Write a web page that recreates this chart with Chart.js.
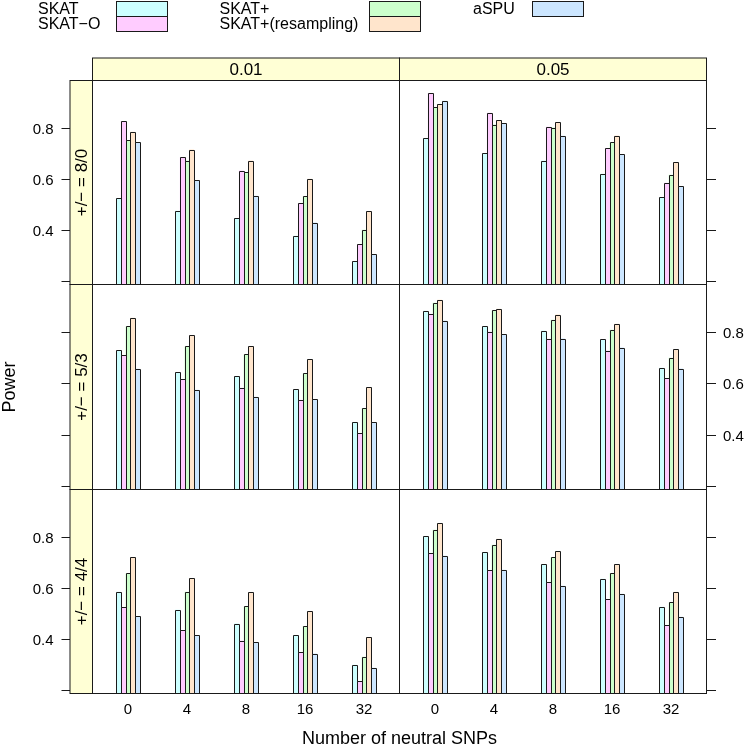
<!DOCTYPE html>
<html>
<head>
<meta charset="utf-8">
<title>Power by number of neutral SNPs</title>
<script src="https://cdn.jsdelivr.net/npm/chart.js@4.4.0/dist/chart.umd.min.js"></script>
<style>
    body { margin: 0; background: #fff; }
    #wrap { position: relative; width: 745px; height: 746px; overflow: hidden; }
    #wrap canvas { position: absolute; left: 0; top: 0; }
</style>
</head>
<body>
<div id="wrap"></div>
<script>
/* ==================== DATA ==================== */

const neutralSnps = ['0', '4', '8', '16', '32'];
const methods = ['SKAT', 'SKAT\u2212O', 'SKAT+', 'SKAT+(resampling)', 'aSPU'];
const methodColors = ['#CCFFFF', '#FFCCFF', '#CCFFCC', '#FFE5CC', '#CCE6FF'];
const alphaLevels = ['0.01', '0.05'];
const signRatios = ['+/\u2212 = 8/0', '+/\u2212 = 5/3', '+/\u2212 = 4/4'];
const yTicks = [0.2, 0.4, 0.6, 0.8];
const yTickLabels = ['', '0.4', '0.6', '0.8'];
const yLimits = [0.187, 0.984];

// one row per method (SKAT, SKAT-O, SKAT+, SKAT+ resampling, aSPU), one column per neutral SNP count
const power80_a01 = [
    [0.525, 0.475, 0.447, 0.377, 0.278],
    [0.826, 0.684, 0.632, 0.505, 0.344],
    [0.752, 0.671, 0.625, 0.531, 0.401],
    [0.784, 0.714, 0.671, 0.600, 0.474],
    [0.744, 0.595, 0.534, 0.429, 0.306]
];
const power80_a05 = [
    [0.758, 0.700, 0.671, 0.620, 0.527],
    [0.935, 0.858, 0.803, 0.719, 0.585],
    [0.879, 0.812, 0.800, 0.742, 0.616],
    [0.892, 0.830, 0.821, 0.769, 0.666],
    [0.905, 0.817, 0.768, 0.695, 0.570]
];
const power53_a01 = [
    [0.728, 0.643, 0.627, 0.576, 0.449],
    [0.708, 0.615, 0.583, 0.536, 0.407],
    [0.821, 0.743, 0.712, 0.638, 0.504],
    [0.855, 0.786, 0.745, 0.693, 0.584],
    [0.656, 0.575, 0.548, 0.539, 0.449]
];
const power53_a05 = [
    [0.882, 0.821, 0.805, 0.771, 0.660],
    [0.870, 0.801, 0.773, 0.727, 0.619],
    [0.913, 0.883, 0.847, 0.808, 0.699],
    [0.925, 0.890, 0.867, 0.831, 0.732],
    [0.844, 0.792, 0.774, 0.739, 0.657]
];
const power44_a01 = [
    [0.585, 0.514, 0.460, 0.416, 0.299],
    [0.523, 0.435, 0.394, 0.349, 0.236],
    [0.656, 0.585, 0.527, 0.451, 0.331],
    [0.719, 0.638, 0.582, 0.508, 0.408],
    [0.490, 0.414, 0.388, 0.343, 0.288]
];
const power44_a05 = [
    [0.801, 0.740, 0.691, 0.635, 0.526],
    [0.736, 0.668, 0.621, 0.555, 0.454],
    [0.827, 0.768, 0.719, 0.657, 0.543],
    [0.853, 0.792, 0.743, 0.691, 0.585],
    [0.725, 0.670, 0.608, 0.577, 0.487]
];

const panelData = [
    [power80_a01, power80_a05],
    [power53_a01, power53_a05],
    [power44_a01, power44_a05]
];

/* ==================== LAYOUT ==================== */

const W = 745, H = 746;
const colEdges = [92.5, 399.5, 706.5];
const rowEdges = [80.5, 284.5, 489.5, 693.5];
const stripSize = 22.5;
const FONT = '"Liberation Sans", Arial, Helvetica, sans-serif';
const LINE = '#1a1a1a';
const STRIP_BG = '#FFFFD5';

// Re-fills each bar on the pixel grid and gives it a crisp 1px outline
const barOutlinePlugin = {
    id: 'barOutline',
    afterDatasetsDraw(chart) {
        const ctx = chart.ctx;
        const area = chart.chartArea;
        ctx.save();
        ctx.lineWidth = 1;
        ctx.strokeStyle = LINE;
        chart.data.datasets.forEach((ds, k) => {
            chart.getDatasetMeta(k).data.forEach(bar => {
                const p = bar.getProps(['x', 'y', 'base', 'width'], true);
                const l = Math.round(p.x - p.width / 2) + 0.5;
                const r = Math.round(p.x + p.width / 2) + 0.5;
                const t = Math.max(Math.round(p.y) + 0.5, area.top);
                // bars rise from the lower limit of the panel, as in lattice
                const b = Math.min(p.base, area.bottom);
                ctx.fillStyle = ds.backgroundColor;
                ctx.fillRect(l, t, r - l, b - t);
                ctx.beginPath();
                ctx.moveTo(l, b);
                ctx.lineTo(l, t);
                ctx.lineTo(r, t);
                ctx.lineTo(r, b);
                ctx.stroke();
            });
        });
        ctx.restore();
    }
};

// Draws frame, strips, axes and the page-level key/titles
const latticePlugin = {
    id: 'lattice',
    afterDraw(chart, args, opts) {
        const ctx = chart.ctx;
        const a = chart.chartArea;
        const x = chart.scales.x;
        const y = chart.scales.y;
        ctx.save();
        ctx.strokeStyle = LINE;
        ctx.lineWidth = 1;
        ctx.fillStyle = '#000';

        // panel frame
        ctx.strokeRect(a.left, a.top, a.right - a.left, a.bottom - a.top);

        // strip above the top row
        if (opts.topStrip) {
            ctx.fillStyle = STRIP_BG;
            ctx.fillRect(a.left, a.top - stripSize, a.right - a.left, stripSize);
            ctx.strokeRect(a.left, a.top - stripSize, a.right - a.left, stripSize);
            ctx.fillStyle = '#000';
            ctx.font = '17px ' + FONT;
            ctx.textAlign = 'center';
            ctx.textBaseline = 'middle';
            ctx.fillText(opts.topStrip, (a.left + a.right) / 2, a.top - stripSize / 2 + 1);
        }

        // strip on the left of the first column
        let axisLeft = a.left;
        if (opts.leftStrip) {
            axisLeft = a.left - stripSize;
            ctx.fillStyle = STRIP_BG;
            ctx.fillRect(axisLeft, a.top, stripSize, a.bottom - a.top);
            ctx.strokeRect(axisLeft, a.top, stripSize, a.bottom - a.top);
            ctx.fillStyle = '#000';
            ctx.save();
            ctx.translate(axisLeft + stripSize / 2 + 1, (a.top + a.bottom) / 2);
            ctx.rotate(-Math.PI / 2);
            ctx.font = '17px ' + FONT;
            ctx.textAlign = 'center';
            ctx.textBaseline = 'middle';
            ctx.fillText(opts.leftStrip, 0, 0);
            ctx.restore();
        }

        // y axis ticks (left or right), labels optional
        ctx.font = '15px ' + FONT;
        ctx.textBaseline = 'middle';
        yTicks.forEach((v, i) => {
            const py = Math.round(y.getPixelForValue(v)) + 0.5;
            ctx.beginPath();
            if (opts.yAxis === 'left') {
                ctx.moveTo(axisLeft - 8.5, py);
                ctx.lineTo(axisLeft, py);
            } else {
                ctx.moveTo(a.right, py);
                ctx.lineTo(a.right + 9.5, py);
            }
            ctx.stroke();
            if (opts.yLabels && yTickLabels[i]) {
                if (opts.yAxis === 'left') {
                    ctx.textAlign = 'right';
                    ctx.fillText(yTickLabels[i], axisLeft - 16.5, py + 1);
                } else {
                    ctx.textAlign = 'left';
                    ctx.fillText(yTickLabels[i], a.right + 16.5, py + 1);
                }
            }
        });

        // category labels under the bottom row
        if (opts.xLabels) {
            ctx.textAlign = 'center';
            ctx.textBaseline = 'middle';
            neutralSnps.forEach((s, i) => {
                ctx.fillText(s, x.getPixelForValue(i + 1), a.bottom + 16);
            });
        }

        if (opts.page) drawPageText(ctx);
        ctx.restore();
    }
};

// Key at the top plus the two axis titles
function drawPageText(ctx) {
    const textX = [38, 219.5, 473];
    const boxX = [116.5, 369.5, 532.5];
    const boxW = 51;
    const boxTop = [1.5, 16.5];
    const boxH = 15;
    ctx.font = '16px ' + FONT;
    ctx.textAlign = 'left';
    ctx.textBaseline = 'middle';
    methods.forEach((m, k) => {
        const col = Math.floor(k / 2);
        const row = k % 2;
        ctx.fillStyle = '#000';
        ctx.fillText(m, textX[col], boxTop[row] + boxH / 2 + 1);
        ctx.fillStyle = methodColors[k];
        ctx.fillRect(boxX[col], boxTop[row], boxW, boxH);
        ctx.strokeStyle = LINE;
        ctx.strokeRect(boxX[col], boxTop[row], boxW, boxH);
    });

    ctx.fillStyle = '#000';
    ctx.font = '18px ' + FONT;
    ctx.textAlign = 'center';
    ctx.textBaseline = 'alphabetic';
    ctx.fillText('Number of neutral SNPs', (colEdges[0] + colEdges[2]) / 2, 744);

    ctx.save();
    ctx.translate(14.5, (rowEdges[0] + rowEdges[3]) / 2);
    ctx.rotate(-Math.PI / 2);
    ctx.fillText('Power', 0, 0);
    ctx.restore();
}

/* ==================== PANELS ==================== */

function makePanel(row, col) {
    const canvas = document.createElement('canvas');
    canvas.width = W;
    canvas.height = H;
    document.getElementById('wrap').appendChild(canvas);

    const values = panelData[row][col];
    const datasets = methods.map((m, k) => ({
        label: m,
        data: neutralSnps.map((s, i) => ({ x: i + 1, y: values[k][i] })),
        backgroundColor: methodColors[k],
        borderWidth: 0,
        categoryPercentage: 2 / 3,
        barPercentage: 1
    }));

    // lattice alternates the labelled side of the y axis by row
    const leftCol = col === 0;
    const labelLeft = row !== 1;

    return new Chart(canvas, {
        type: 'bar',
        data: { datasets: datasets },
        options: {
            responsive: false,
            animation: false,
            devicePixelRatio: 1,
            layout: {
                padding: {
                    left: colEdges[col],
                    right: W - colEdges[col + 1],
                    top: rowEdges[row],
                    bottom: H - rowEdges[row + 1]
                }
            },
            scales: {
                x: { type: 'linear', min: 0.4, max: 5.6, offset: false, display: false },
                y: { type: 'linear', min: yLimits[0], max: yLimits[1], display: false }
            },
            plugins: {
                legend: { display: false },
                tooltip: { enabled: false },
                lattice: {
                    topStrip: row === 0 ? alphaLevels[col] : null,
                    leftStrip: leftCol ? signRatios[row] : null,
                    yAxis: leftCol ? 'left' : 'right',
                    yLabels: leftCol ? labelLeft : !labelLeft,
                    xLabels: row === 2,
                    page: row === 0 && col === 0
                }
            }
        },
        plugins: [barOutlinePlugin, latticePlugin]
    });
}

document.addEventListener('DOMContentLoaded', function() {
    for (let r = 0; r < signRatios.length; r++) {
        for (let c = 0; c < alphaLevels.length; c++) {
            makePanel(r, c);
        }
    }
});
</script>
</body>
</html>
